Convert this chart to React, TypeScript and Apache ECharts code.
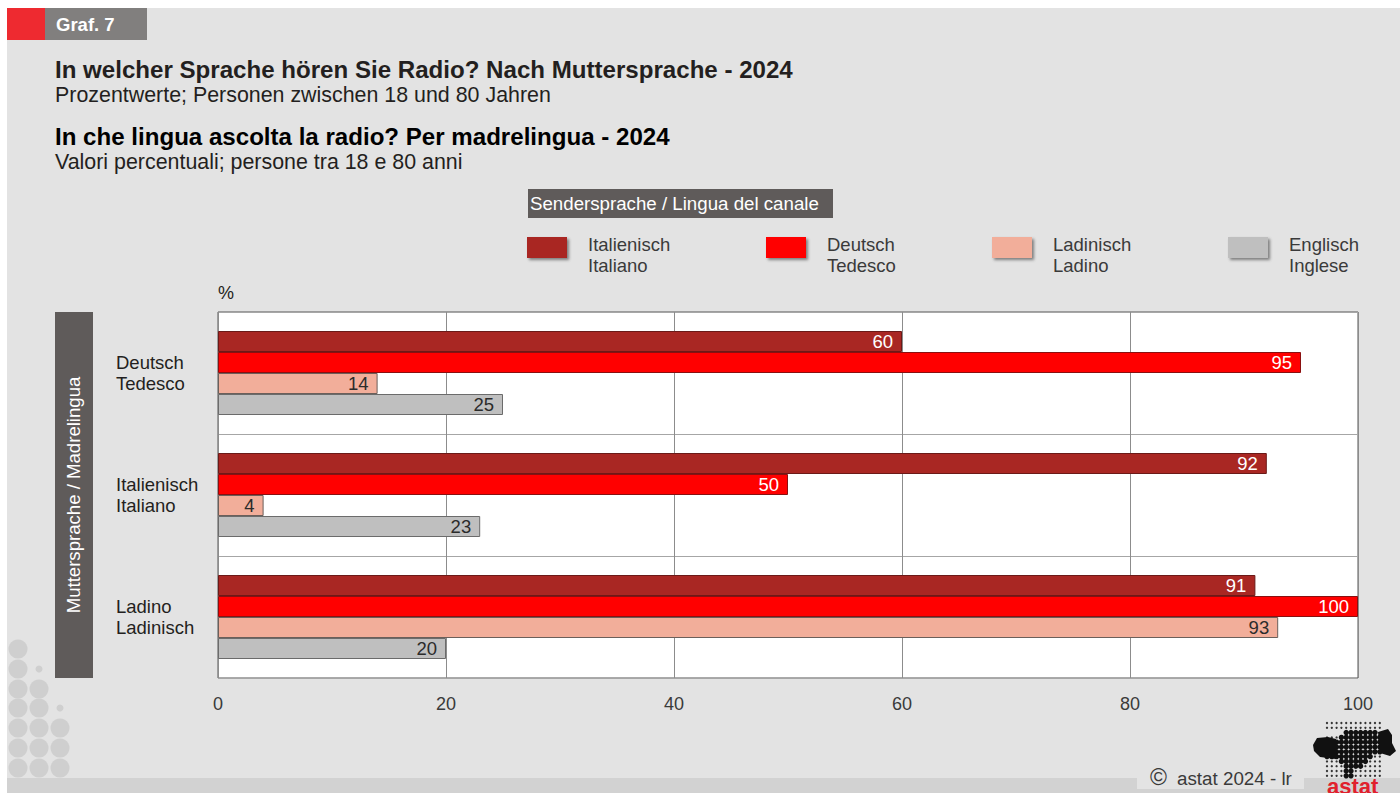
import React, { useEffect, useRef } from "react";
import * as echarts from "echarts";

const categories = ["Deutsch\nTedesco", "Italienisch\nItaliano", "Ladino\nLadinisch"];
const seriesNames = ["Italienisch\nItaliano", "Deutsch\nTedesco", "Ladinisch\nLadino", "Englisch\nInglese"];
const italianValues = [60, 92, 91];
const germanValues = [95, 50, 100];
const ladinValues = [14, 4, 93];
const englishValues = [25, 23, 20];
const seriesColors = ["#a92723", "#ff0000", "#f2ae9a", "#bfbfbf"];
const borderColors = ["#6b1a18", "#8a1010", "#6b5f5a", "#6b6b6b"];
const labelColors = ["#ffffff", "#ffffff", "#2b2b2b", "#2b2b2b"];
const legendLefts = [527, 766, 992, 1228];
const FONT = '"Liberation Sans", Arial, sans-serif';

const bigDots = [
  [18, 649], [18, 669], [18, 689], [39, 689], [18, 708], [39, 708],
  [18, 728], [39, 728], [60, 728], [18, 748], [39, 748], [60, 748], [18, 768], [39, 768], [60, 768],
];
const smallDots = [[39, 669], [60, 708]];

// Logo outline in page pixels
const landOutline = [
  [1327, 738], [1334, 741], [1345, 732], [1378, 731], [1383, 740], [1383, 753], [1375, 756], [1368, 759],
  [1361, 768], [1353, 771], [1351, 778], [1346, 778], [1344, 765], [1339, 760], [1330, 758], [1327, 758],
];
const leftBlob = "M1336 739 L1328 737 L1317 738 L1313 745 L1314 751 L1320 757 L1336 759 Z";
const rightTail = "M1378 732 L1388 729 L1392 735 L1392 743 L1396 751 L1390 756 L1380 753 Z";
echarts.graphic.registerShape("astatLeft", echarts.graphic.extendPath(leftBlob as any, {}) as any);
echarts.graphic.registerShape("astatRight", echarts.graphic.extendPath(rightTail as any, {}) as any);

function insideLand(x: number, y: number) {
  let inside = false;
  for (let i = 0, j = landOutline.length - 1; i < landOutline.length; j = i++) {
    const [xi, yi] = landOutline[i];
    const [xj, yj] = landOutline[j];
    if (yi > y !== yj > y && x < ((xj - xi) * (y - yi)) / (yj - yi) + xi) inside = !inside;
  }
  return inside;
}

function logoDots() {
  const out: any[] = [];
  for (let x = 1327; x <= 1380; x += 4.8) {
    for (let y = 723; y <= 776; y += 4.8) {
      const inLand = insideLand(x, y);
      out.push({
        type: "circle",
        shape: { cx: x, cy: y, r: inLand ? 2.7 : 1.15 },
        style: { fill: inLand ? "#111111" : "#333333" },
        silent: true,
      });
    }
  }
  return out;
}

function txt(x: number, y: number, text: string, fontSize: number, fill: string, fontWeight = "normal", extra: any = {}) {
  return {
    type: "text",
    x,
    y,
    style: { text, fontSize, fill, fontWeight, fontFamily: FONT, verticalAlign: "middle", ...extra },
    silent: true,
  };
}

export default function App() {
  const ref = useRef<HTMLDivElement>(null);
  useEffect(() => {
    document.body.style.margin = "0";
    const chart = echarts.init(ref.current!, undefined, { renderer: "svg" });
    const values = [italianValues, germanValues, ladinValues, englishValues];
    const graphic: any[] = [
      { type: "rect", shape: { x: 7, y: 8, width: 1393, height: 785 }, style: { fill: "#e3e3e3" }, silent: true, z: -10 },
      { type: "rect", shape: { x: 7, y: 778, width: 1393, height: 15 }, style: { fill: "#d2d2d2" }, silent: true, z: -9 },
      { type: "rect", shape: { x: 1137, y: 765, width: 167, height: 24 }, style: { fill: "#e3e3e3" }, silent: true, z: -8 },
      { type: "rect", shape: { x: 7, y: 8, width: 38, height: 32 }, style: { fill: "#ee2a30" }, silent: true },
      { type: "rect", shape: { x: 45, y: 8, width: 102, height: 32 }, style: { fill: "#817f7e" }, silent: true },
      txt(56, 24, "Graf. 7", 18.5, "#ffffff", "bold"),
      txt(55, 69, "In welcher Sprache hören Sie Radio? Nach Muttersprache - 2024", 24.1, "#231f20", "bold"),
      txt(55, 95, "Prozentwerte; Personen zwischen 18 und 80 Jahren", 21.4, "#231f20"),
      txt(55, 136, "In che lingua ascolta la radio? Per madrelingua - 2024", 24.1, "#000000", "bold"),
      txt(55, 162, "Valori percentuali; persone tra 18 e 80 anni", 21.4, "#231f20"),
      { type: "rect", shape: { x: 528, y: 189, width: 305, height: 29 }, style: { fill: "#5f5b5a" }, silent: true },
      txt(530, 203, "Sendersprache / Lingua del canale", 18.7, "#ffffff"),
      { type: "rect", shape: { x: 55, y: 312, width: 38, height: 366 }, style: { fill: "#5f5b5a" }, silent: true },
      {
        type: "text",
        x: 73,
        y: 495,
        rotation: Math.PI / 2,
        style: { text: "Muttersprache / Madrelingua", fontSize: 18.6, fill: "#ffffff", fontFamily: FONT, align: "center", verticalAlign: "middle" },
        silent: true,
      },
      txt(218, 293, "%", 18, "#231f20"),
      ...bigDots.map(([cx, cy]) => ({ type: "circle", shape: { cx, cy, r: 9.5 }, style: { fill: "#cfcfcf" }, silent: true })),
      ...smallDots.map(([cx, cy]) => ({ type: "circle", shape: { cx, cy, r: 3.5 }, style: { fill: "#cfcfcf" }, silent: true })),
      txt(1150, 777, "©", 23, "#3a3a3a"),
      txt(1177, 778, "astat 2024 - lr", 18.8, "#3a3a3a"),
      ...logoDots(),
      { type: "astatLeft", style: { fill: "#111111" }, silent: true },
      { type: "astatRight", style: { fill: "#111111" }, silent: true },
      txt(1327, 786, "astat", 22, "#e0202c", "bold"),
    ];
    chart.setOption({
      animation: false,
      textStyle: { fontFamily: FONT },
      graphic,
      legend: seriesNames.map((name, i) => ({
        show: true,
        data: [{ name, icon: "path://M0 3.5H40V24.5H0Z M0 0H40V0H0Z M0 42H40V42H0Z" }],
        left: legendLefts[i],
        top: 233.5,
        itemWidth: 40,
        itemHeight: 42,
        itemGap: 0,
        selectedMode: false,
        itemStyle: {
          color: seriesColors[i],
          borderWidth: 0,
          shadowColor: "rgba(0,0,0,0.45)",
          shadowBlur: 3,
          shadowOffsetX: 2,
          shadowOffsetY: 2,
        },
        textStyle: { fontSize: 18.5, color: "#3a3a3a", fontFamily: FONT, lineHeight: 21, padding: [0, 0, 0, 16] },
        padding: 0,
      })),
      grid: { show: true, backgroundColor: "#ffffff", borderColor: "#555555", borderWidth: 1, left: 218, right: 42, top: 312, bottom: 115 },
      xAxis: {
        type: "value",
        min: 0,
        max: 100,
        interval: 20,
        axisLine: { show: false },
        axisTick: { show: false },
        axisLabel: { fontSize: 18, color: "#3a3a3a", margin: 17, fontFamily: FONT },
        splitLine: { show: true, lineStyle: { color: "#8c8c8c", width: 1 } },
      },
      yAxis: {
        type: "category",
        inverse: true,
        data: categories,
        axisLine: { show: false },
        axisTick: { show: false },
        axisLabel: { fontSize: 18.5, color: "#231f20", margin: 102, align: "left", lineHeight: 21, padding: [2, 0, 0, 0], fontFamily: FONT },
        splitLine: { show: true, lineStyle: { color: "#a6a6a6", width: 1 } },
      },
      series: seriesNames.map((name, i) => ({
        name,
        type: "bar",
        data: values[i],
        barWidth: 21,
        barGap: "0%",
        itemStyle: { color: seriesColors[i], borderColor: borderColors[i], borderWidth: 1 },
        label: {
          show: true,
          position: "insideRight",
          distance: 9,
          fontSize: 18.5,
          color: labelColors[i],
          fontFamily: FONT,
        },
      })),
    });
    return () => chart.dispose();
  }, []);
  return <div ref={ref} style={{ position: "fixed", left: 0, top: 0, width: 1400, height: 793, background: "#ffffff" }} />;
}
